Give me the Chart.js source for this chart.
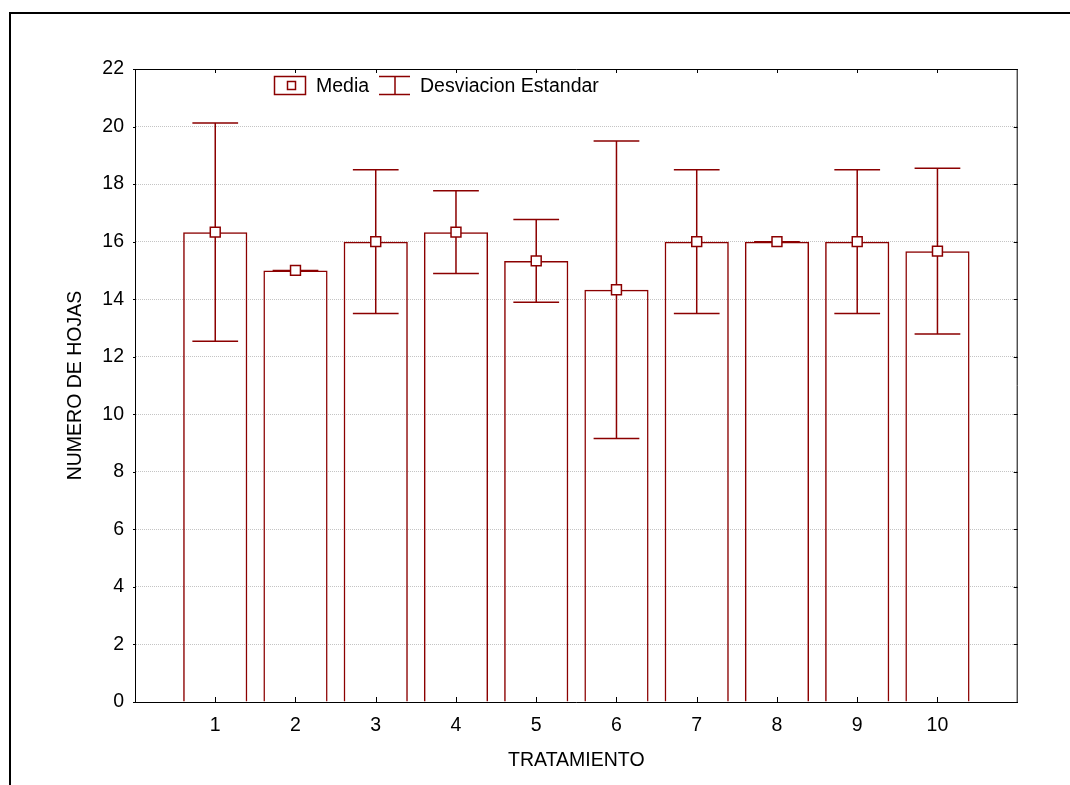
<!DOCTYPE html>
<html lang="es">
<head>
    <meta charset="UTF-8">
    <title>Numero de hojas por tratamiento</title>
    <script src="https://cdn.jsdelivr.net/npm/chart.js"></script>
    <style>
        body { margin: 0; background: #fff; }
        canvas { display: block; }
    </style>
</head>
<body>
    <canvas id="hojasChart" width="1070" height="785"></canvas>
    <script>
        // datos
        const tratamientos = ['1', '2', '3', '4', '5', '6', '7', '8', '9', '10'];
        const medias = [16.33, 15.0, 16.0, 16.33, 15.33, 14.33, 16.0, 16.0, 16.0, 15.67];
        const desviaciones = [3.79, 0, 2.5, 1.44, 1.44, 5.17, 2.5, 0, 2.5, 2.88];
        const yTicks = [0, 2, 4, 6, 8, 10, 12, 14, 16, 18, 20, 22];

        const rojo = '#8b0000';
        const fuente = '"Liberation Sans", Arial, sans-serif';

        Chart.defaults.font.family = fuente;
        Chart.defaults.font.size = 19.5;
        Chart.defaults.color = '#000';

        const puntos = tratamientos.map((t, i) => ({ x: i + 1, y: medias[i] }));

        // barras de error, se dibujan despues de las barras y antes de los marcadores
        const errorPlugin = {
            id: 'errorBars',
            afterDatasetDraw(chart, args) {
                if (args.index !== 0) return;
                const { ctx, scales: { x, y } } = chart;
                ctx.save();
                ctx.strokeStyle = rojo;
                ctx.lineWidth = 1.5;
                puntos.forEach((p, i) => {
                    const sd = desviaciones[i];
                    const px = x.getPixelForValue(p.x);
                    const x0 = x.getPixelForValue(p.x - 0.285);
                    const x1 = x.getPixelForValue(p.x + 0.285);
                    const yt = y.getPixelForValue(p.y + sd);
                    const yb = y.getPixelForValue(p.y - sd);
                    ctx.beginPath();
                    ctx.moveTo(px, yt); ctx.lineTo(px, yb);
                    ctx.moveTo(x0, yt); ctx.lineTo(x1, yt);
                    ctx.moveTo(x0, yb); ctx.lineTo(x1, yb);
                    ctx.stroke();
                });
                ctx.restore();
            }
        };

        // marco del grafico, marcas interiores y leyenda
        const marcoPlugin = {
            id: 'marco',
            afterDraw(chart) {
                const { ctx, chartArea: a, scales: { x, y } } = chart;
                ctx.save();
                // marco exterior
                ctx.strokeStyle = '#000';
                ctx.lineWidth = 2;
                ctx.beginPath();
                ctx.moveTo(10, 785); ctx.lineTo(10, 13); ctx.lineTo(1070, 13);
                ctx.stroke();

                // lados superior y derecho
                ctx.lineWidth = 1;
                ctx.beginPath();
                ctx.moveTo(a.left, a.top + 0.5); ctx.lineTo(a.right, a.top + 0.5);
                ctx.moveTo(a.right - 0.5, a.top); ctx.lineTo(a.right - 0.5, a.bottom);
                tratamientos.forEach((t, i) => {
                    const px = Math.round(x.getPixelForValue(i + 1)) + 0.5;
                    ctx.moveTo(px, a.top); ctx.lineTo(px, a.top + 4);
                    ctx.moveTo(px, a.bottom); ctx.lineTo(px, a.bottom - 5);
                });
                yTicks.forEach(v => {
                    const py = Math.round(y.getPixelForValue(v)) + 0.5;
                    ctx.moveTo(a.right, py); ctx.lineTo(a.right - 4, py);
                    ctx.moveTo(a.left, py); ctx.lineTo(a.left - 2, py);
                });
                ctx.stroke();

                // leyenda
                ctx.strokeStyle = rojo;
                ctx.lineWidth = 1.5;
                ctx.strokeRect(274.5, 76.5, 31, 18);
                ctx.strokeRect(287.5, 81.5, 8, 8);
                ctx.beginPath();
                ctx.moveTo(379, 76.5); ctx.lineTo(410, 76.5);
                ctx.moveTo(379, 94.5); ctx.lineTo(410, 94.5);
                ctx.moveTo(395, 76.5); ctx.lineTo(395, 94.5);
                ctx.stroke();
                ctx.fillStyle = '#000';
                ctx.font = '19.5px ' + fuente;
                ctx.textBaseline = 'middle';
                ctx.fillText('Media', 316, 87);
                ctx.fillText('Desviacion Estandar', 420, 87);
                ctx.restore();
            }
        };

        const ctx = document.getElementById('hojasChart').getContext('2d');
        const hojasChart = new Chart(ctx, {
            data: {
                datasets: [{
                    type: 'bar',
                    label: 'Media',
                    data: puntos,
                    backgroundColor: 'rgba(255, 255, 255, 0)',
                    borderColor: rojo,
                    borderWidth: 1.5,
                    barPercentage: 0.8,
                    categoryPercentage: 1,
                    order: 2
                }, {
                    type: 'scatter',
                    label: 'Marcador',
                    data: puntos,
                    pointStyle: 'rect',
                    pointRadius: 7,
                    pointBackgroundColor: '#fff',
                    pointBorderColor: rojo,
                    pointBorderWidth: 1.5,
                    order: 1
                }]
            },
            options: {
                responsive: false,
                animation: false,
                layout: { padding: { top: 69, right: 52.3, left: 0, bottom: 0 } },
                plugins: {
                    legend: { display: false },
                    tooltip: { enabled: false }
                },
                scales: {
                    x: {
                        type: 'linear',
                        min: 0,
                        max: 11,
                        offset: false,
                        afterBuildTicks: scale => {
                            scale.ticks = tratamientos.map((t, i) => ({ value: i + 1 }));
                        },
                        afterFit: scale => { scale.height = 83; },
                        ticks: {
                            padding: 12,
                            callback: v => tratamientos[v - 1]
                        },
                        grid: { display: false, drawTicks: false, offset: false },
                        border: { display: true, color: '#000', width: 1 },
                        title: {
                            display: true,
                            text: 'TRATAMIENTO',
                            padding: { top: 0, bottom: 13 }
                        }
                    },
                    y: {
                        min: 0,
                        max: 22,
                        afterBuildTicks: scale => {
                            scale.ticks = yTicks.map(v => ({ value: v }));
                        },
                        afterFit: scale => { scale.width = 135; },
                        ticks: { padding: 11 },
                        grid: { color: '#c4c4c4', drawTicks: false },
                        border: { display: true, color: '#000', width: 1, dash: [1, 1] },
                        title: {
                            display: true,
                            text: 'NUMERO DE HOJAS',
                            padding: { top: 64, bottom: 0 }
                        }
                    }
                }
            },
            plugins: [errorPlugin, marcoPlugin]
        });
    </script>
</body>
</html>
